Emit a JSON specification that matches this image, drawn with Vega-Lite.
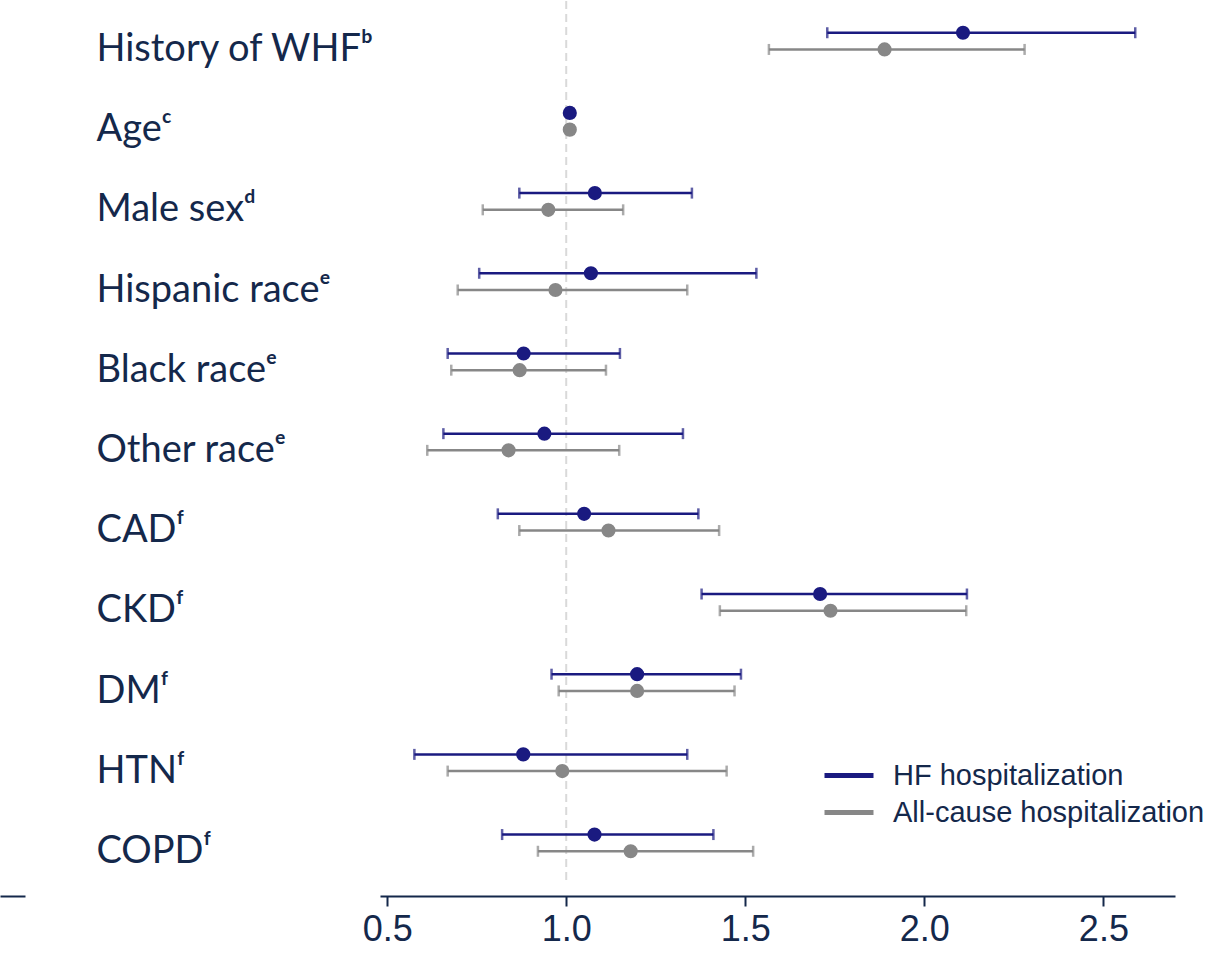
{
  "$schema": "https://vega.github.io/schema/vega-lite/v6.json",
  "padding": 0,
  "background": "white",
  "config": {"view": {"stroke": null}, "axis": {"grid": false}},
  "datasets": {
    "rows": [
      {"var": "History of WHFᵇ", "outcome": "HF hospitalization", "est": 2.108, "lo": 1.729, "hi": 2.589},
      {"var": "History of WHFᵇ", "outcome": "All-cause hospitalization", "est": 1.889, "lo": 1.566, "hi": 2.280},
      {"var": "Ageᶜ", "outcome": "HF hospitalization", "est": 1.010, "lo": 1.000, "hi": 1.020},
      {"var": "Ageᶜ", "outcome": "All-cause hospitalization", "est": 1.010, "lo": 1.000, "hi": 1.020},
      {"var": "Male sexᵈ", "outcome": "HF hospitalization", "est": 1.080, "lo": 0.869, "hi": 1.351},
      {"var": "Male sexᵈ", "outcome": "All-cause hospitalization", "est": 0.950, "lo": 0.767, "hi": 1.159},
      {"var": "Hispanic raceᵉ", "outcome": "HF hospitalization", "est": 1.069, "lo": 0.757, "hi": 1.531},
      {"var": "Hispanic raceᵉ", "outcome": "All-cause hospitalization", "est": 0.970, "lo": 0.697, "hi": 1.338},
      {"var": "Black raceᵉ", "outcome": "HF hospitalization", "est": 0.881, "lo": 0.669, "hi": 1.150},
      {"var": "Black raceᵉ", "outcome": "All-cause hospitalization", "est": 0.870, "lo": 0.679, "hi": 1.111},
      {"var": "Other raceᵉ", "outcome": "HF hospitalization", "est": 0.939, "lo": 0.657, "hi": 1.326},
      {"var": "Other raceᵉ", "outcome": "All-cause hospitalization", "est": 0.839, "lo": 0.612, "hi": 1.148},
      {"var": "CADᶠ", "outcome": "HF hospitalization", "est": 1.050, "lo": 0.809, "hi": 1.369},
      {"var": "CADᶠ", "outcome": "All-cause hospitalization", "est": 1.118, "lo": 0.869, "hi": 1.427},
      {"var": "CKDᶠ", "outcome": "HF hospitalization", "est": 1.709, "lo": 1.378, "hi": 2.119},
      {"var": "CKDᶠ", "outcome": "All-cause hospitalization", "est": 1.738, "lo": 1.429, "hi": 2.117},
      {"var": "DMᶠ", "outcome": "HF hospitalization", "est": 1.198, "lo": 0.959, "hi": 1.488},
      {"var": "DMᶠ", "outcome": "All-cause hospitalization", "est": 1.198, "lo": 0.979, "hi": 1.470},
      {"var": "HTNᶠ", "outcome": "HF hospitalization", "est": 0.880, "lo": 0.576, "hi": 1.338},
      {"var": "HTNᶠ", "outcome": "All-cause hospitalization", "est": 0.989, "lo": 0.669, "hi": 1.448},
      {"var": "COPDᶠ", "outcome": "HF hospitalization", "est": 1.079, "lo": 0.821, "hi": 1.411},
      {"var": "COPDᶠ", "outcome": "All-cause hospitalization", "est": 1.180, "lo": 0.921, "hi": 1.522}
    ],
    "ref": [{"ref": 1}]
  },
  "spacing": 71,
  "hconcat": [
    {
      "width": 25,
      "height": 882,
      "data": {"name": "ref"},
      "mark": {"type": "rule", "opacity": 0},
      "encoding": {
        "x": {
          "field": "ref", "type": "quantitative",
          "scale": {"domain": [0, 2], "nice": false, "zero": false},
          "axis": {"title": null, "ticks": false, "labels": false, "domain": true, "domainColor": "#14284b", "domainWidth": 2, "offset": 13, "grid": false}
        }
      }
    },
    {
      "width": 795,
      "height": 882,
      "data": {"name": "rows"},
      "encoding": {
        "y": {
          "field": "var", "type": "nominal", "sort": null,
          "scale": {"paddingInner": 0, "paddingOuter": 0},
          "axis": {"title": null, "ticks": false, "domain": false, "labelAlign": "left", "labelPadding": 284, "labelOffset": 9, "labelBaseline": "middle", "labelFont": "Lato", "labelFontSize": 38, "labelColor": "#14284b", "labelLimit": 0}
        },
        "yOffset": {
          "field": "outcome", "type": "nominal", "sort": null,
          "scale": {"domain": ["above", "HF hospitalization", "All-cause hospitalization", "below"], "paddingInner": 0, "paddingOuter": 0.4}
        }
      },
      "layer": [
        {
          "data": {"name": "ref"},
          "mark": {"type": "rule", "color": "#d9d9d9", "strokeWidth": 2, "strokeDash": [8, 5]},
          "encoding": {
            "x": {"field": "ref", "type": "quantitative"},
            "y": null,
            "yOffset": null
          }
        },
        {
          "mark": {"type": "rule", "strokeWidth": 2.5},
          "encoding": {
            "x": {
              "field": "lo", "type": "quantitative",
              "scale": {"domain": [0.48, 2.7], "nice": false, "zero": false},
              "axis": {"title": null, "values": [0.5, 1, 1.5, 2, 2.5], "format": ".1f", "offset": 13, "domainColor": "#14284b", "domainWidth": 2, "tickColor": "#14284b", "tickWidth": 2, "tickSize": 10, "labelFont": "Liberation Sans", "labelFontSize": 36, "labelColor": "#14284b", "labelPadding": 6, "grid": false}
            },
            "x2": {"field": "hi"},
            "color": {
              "field": "outcome", "type": "nominal", "sort": null,
              "scale": {"domain": ["HF hospitalization", "All-cause hospitalization"], "range": ["#1a1a80", "#878787"]},
              "legend": {"title": null, "orient": "none", "legendX": 822, "legendY": 756, "symbolType": "stroke", "symbolSize": 2401, "symbolStrokeWidth": 5, "labelFont": "Liberation Sans", "labelFontSize": 29, "labelColor": "#14284b", "labelOffset": 17, "labelLimit": 0, "padding": 0, "rowPadding": 0, "clipHeight": 37}
            }
          }
        },
        {
          "mark": {"type": "tick", "size": 11, "thickness": 2.5},
          "encoding": {
            "x": {"field": "lo", "type": "quantitative"},
            "color": {"field": "outcome", "type": "nominal", "sort": null, "legend": null}
          }
        },
        {
          "mark": {"type": "tick", "size": 11, "thickness": 2.5},
          "encoding": {
            "x": {"field": "hi", "type": "quantitative"},
            "color": {"field": "outcome", "type": "nominal", "sort": null, "legend": null}
          }
        },
        {
          "mark": {"type": "point", "filled": true, "opacity": 1, "size": 200},
          "encoding": {
            "x": {"field": "est", "type": "quantitative"},
            "color": {"field": "outcome", "type": "nominal", "sort": null, "legend": null}
          }
        }
      ]
    }
  ]
}
